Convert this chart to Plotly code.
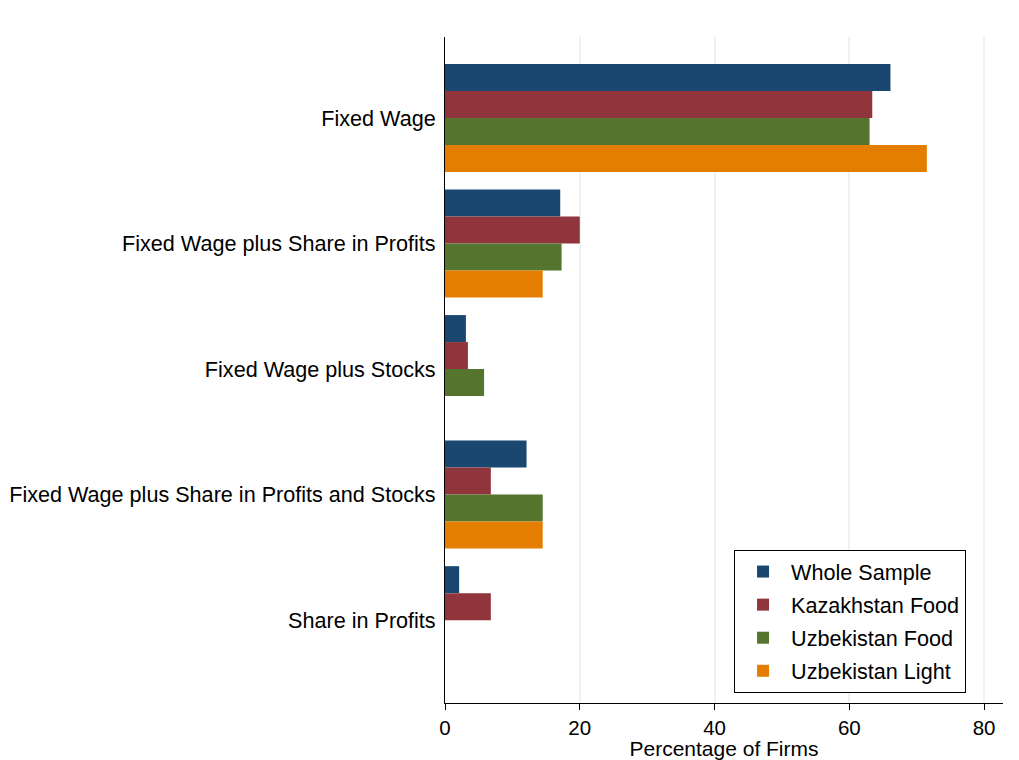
import plotly.graph_objects as go

categories = [
    "Fixed Wage",
    "Fixed Wage plus Share in Profits",
    "Fixed Wage plus Stocks",
    "Fixed Wage plus Share in Profits and Stocks",
    "Share in Profits",
]
series_names = ["Whole Sample", "Kazakhstan Food", "Uzbekistan Food", "Uzbekistan Light"]
whole_sample = [66.1, 17.1, 3.1, 12.1, 2.1]
kazakhstan_food = [63.4, 20.0, 3.4, 6.8, 6.8]
uzbekistan_food = [63.0, 17.3, 5.8, 14.5, 0]
uzbekistan_light = [71.5, 14.5, 0, 14.5, 0]
colors = ["#1A476F", "#90353B", "#55752F", "#E37E00"]
x_ticks = [0, 20, 40, 60, 80]

fig = go.Figure()
for name, vals, col in zip(series_names,
                           [whole_sample, kazakhstan_food, uzbekistan_food, uzbekistan_light],
                           colors):
    fig.add_trace(go.Bar(
        y=categories, x=vals, name=name, orientation="h", legendgroup=name,
        marker=dict(color=col, line=dict(width=0)),
    ))

font_family = "Liberation Sans, Arial, sans-serif"
FS = 21.6
fig.update_layout(
    width=1011, height=752,
    margin=dict(l=437, r=16, t=29, b=57, autoexpand=False),
    paper_bgcolor="white", plot_bgcolor="white",
    barmode="group", bargap=0.14, bargroupgap=0,
    font=dict(family=font_family, size=FS, color="black"),
    legend=dict(
        x=0.518, y=0.015, xanchor="left", yanchor="bottom",
        bordercolor="black", borderwidth=1, bgcolor="white",
        font=dict(size=FS), traceorder="grouped",
        itemwidth=46, tracegroupgap=2,
    ),
    showlegend=True,
)
fig.update_xaxes(
    range=[0, 82.8], tickvals=x_ticks, ticktext=[str(v) for v in x_ticks],
    tickfont=dict(size=20.5),
    showgrid=True, gridcolor="#EAF2F3", gridwidth=1.5,
    showline=True, linecolor="black", linewidth=1,
    ticks="outside", ticklen=6, tickcolor="black",
    zeroline=False, automargin=False,
    title=dict(text="Percentage of Firms", standoff=0, font=dict(size=21)),
)
fig.update_yaxes(
    type="category", categoryorder="array", categoryarray=categories,
    range=[4.66, -0.645], automargin=False,
    showgrid=False, showline=True, linecolor="black", linewidth=1,
    ticks="", ticklabelstandoff=4, zeroline=False,
)

fig.write_html("out.html")
